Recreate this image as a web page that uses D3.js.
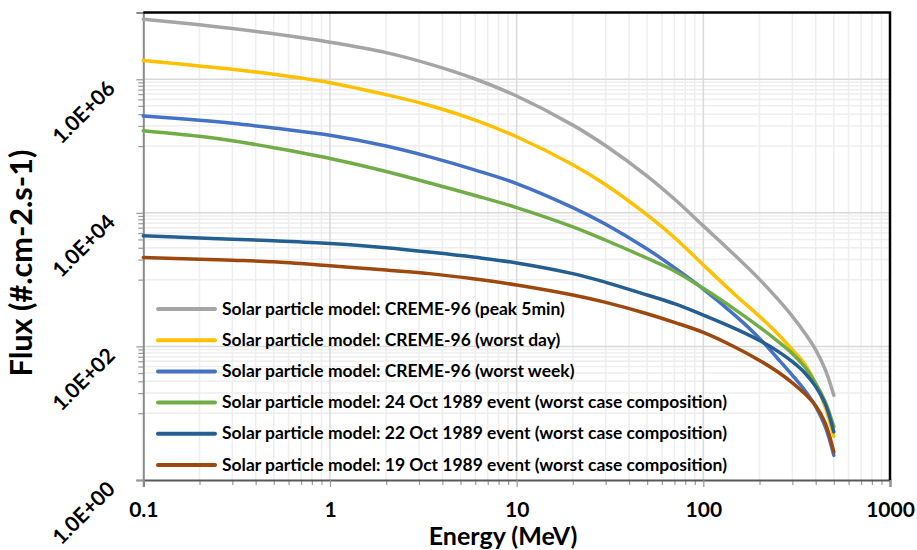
<!DOCTYPE html>
<html>
<head>
<meta charset="utf-8">
<script src="https://cdn.jsdelivr.net/npm/d3@7"></script>
<style>
html,body{margin:0;padding:0;background:#fff;}
svg{display:block;font-family:Lato,"Open Sans",sans-serif;font-weight:bold;}
</style>
</head>
<body>
<svg id="chart" width="917" height="550"></svg>
<script>
// ---- data ----
const energy = [0.1,0.2,0.3,0.5,1,2,3.5,6,10,20,30,50,70,100,150,200,250,300,350,400,450,500];
const peak5min = [7.94e6,6.53e6,5.75e6,4.79e6,3.59e6,2.51e6,1.66e6,1.01e6,5.62e5,2.06e5,1.01e5,3.56e4,1.61e4,6.38e3,2.22e3,1.01e3,515,282,158,89,45,18.6];
const worstDay = [1.91e6,1.58e6,1.41e6,1.19e6,8.9e5,5.89e5,3.98e5,2.45e5,1.38e5,5.25e4,2.63e4,9.3e3,4.27e3,1.66e3,575,282,155,89,54,27.5,12.3,4.5];
const worstWeek = [2.82e5,2.43e5,2.19e5,1.86e5,1.45e5,1.0e5,6.76e4,4.37e4,2.75e4,1.2e4,6.76e3,2.88e3,1.51e3,724,282,132,66,37,21.9,12.6,6.3,2.34];
const oct24 = [1.70e5,1.40e5,1.20e5,9.44e4,6.53e4,4.17e4,2.75e4,1.82e4,1.2e4,6.17e3,3.89e3,2.09e3,1.35e3,741,347,195,120,78,49,28,14.8,6.3];
const oct22 = [4.54e3,4.22e3,4.03e3,3.82e3,3.49e3,3.01e3,2.57e3,2.16e3,1.78e3,1.23e3,912,589,437,295,182,123,85,59,40,25,13.8,5.25];
const oct19 = [2.15e3,2.02e3,1.95e3,1.85e3,1.61e3,1.39e3,1.22e3,1.02e3,832,589,457,309,229,162,95.5,61.7,41.7,28.5,19.5,12.9,7.1,2.63];

const seriesNames = [
  "Solar particle model: CREME-96 (peak 5min)",
  "Solar particle model: CREME-96 (worst day)",
  "Solar particle model: CREME-96 (worst week)",
  "Solar particle model: 24 Oct 1989 event (worst case composition)",
  "Solar particle model: 22 Oct 1989 event (worst case composition)",
  "Solar particle model: 19 Oct 1989 event (worst case composition)"
];
const seriesValues = [peak5min, worstDay, worstWeek, oct24, oct22, oct19];
const seriesColors = ["#A5A5A5","#FFC000","#4472C4","#70AD47","#255E91","#9E480E"];

const xMajorTicks = [0.1,1,10,100,1000];
const xTickLabels = ["0.1","1","10","100","1000"];
const yMajorTicks = [1,1e2,1e4,1e6];
const yTickLabels = ["1.0E+00","1.0E+02","1.0E+04","1.0E+06"];
const xTitle = "Energy (MeV)";
const yTitle = "Flux (#.cm-2.s-1)";

// ---- layout ----
const L = 143.3, R = 890, T = 12.5, B = 480;
const svg = d3.select("#chart");
const x = d3.scaleLog().domain([0.1,1000]).range([L,R]);
const y = d3.scaleLog().domain([1,1e7]).range([B,T]);

// minor tick values
const xMinor = [];
for (let e=-1; e<=2; e++) for (let k=2;k<=9;k++) xMinor.push(k*Math.pow(10,e));
const yMinor = [];
for (let n=1;n<=3;n++) for (let k=1;k<=9;k++) yMinor.push(k*Math.pow(10,2*n-1));

// gridlines
const g = svg.append("g");
g.selectAll(".vmin").data(xMinor).join("line")
  .attr("x1",d=>x(d)).attr("x2",d=>x(d)).attr("y1",T).attr("y2",B)
  .attr("stroke","#eeeeee").attr("stroke-width",1.5);
g.selectAll(".hmin").data(yMinor).join("line")
  .attr("x1",L).attr("x2",R).attr("y1",d=>y(d)).attr("y2",d=>y(d))
  .attr("stroke","#eeeeee").attr("stroke-width",1.5);
g.selectAll(".vmaj").data([1,10,100]).join("line")
  .attr("x1",d=>x(d)).attr("x2",d=>x(d)).attr("y1",T).attr("y2",B)
  .attr("stroke","#d9d9d9").attr("stroke-width",1.5);
g.selectAll(".hmaj").data([1e2,1e4,1e6]).join("line")
  .attr("x1",L).attr("x2",R).attr("y1",d=>y(d)).attr("y2",d=>y(d))
  .attr("stroke","#d9d9d9").attr("stroke-width",1.5);

// axes: minor ticks
const axMinX = svg.append("g").attr("transform",`translate(0,${B})`)
  .call(d3.axisBottom(x).tickValues(xMinor).tickSize(5).tickFormat(""));
const axMinY = svg.append("g").attr("transform",`translate(${L},0)`)
  .call(d3.axisLeft(y).tickValues(yMinor.concat([1e7])).tickSize(5).tickFormat(""));
[axMinX,axMinY].forEach(a=>{a.select(".domain").remove(); a.selectAll("line").attr("stroke","#999").attr("stroke-width",1.2);});

// major axes
const axX = svg.append("g").attr("transform",`translate(0,${B})`)
  .call(d3.axisBottom(x).tickValues(xMajorTicks).tickSize(7).tickFormat((d,i)=>xTickLabels[i]));
axX.select(".domain").attr("stroke","#595959").attr("stroke-width",2);
axX.selectAll("line").attr("stroke","#999").attr("stroke-width",1.2);
axX.selectAll("text").attr("y",37).attr("dy",0)
  .attr("font-size",21).attr("font-family","Lato").attr("font-weight","bold").attr("fill","#000");

const axY = svg.append("g").attr("transform",`translate(${L},0)`)
  .call(d3.axisLeft(y).tickValues(yMajorTicks).tickSize(7).tickFormat((d,i)=>yTickLabels[i]));
axY.select(".domain").attr("stroke","#8a8a8a").attr("stroke-width",2);
axY.selectAll("line").attr("stroke","#999").attr("stroke-width",1.2);
axY.selectAll("text").attr("x",0).attr("dy",0).attr("text-anchor","end")
  .attr("transform","translate(-27,10) rotate(-45)")
  .attr("font-size",21).attr("font-family","Lato").attr("font-weight","bold").attr("fill","#000");

// top/right border
svg.append("path").attr("d",`M${L},${T}H${R}V${B}`).attr("fill","none")
  .attr("stroke","#000").attr("stroke-width",2.5);

// series lines
const line = d3.line().x(d=>x(d[0])).y(d=>y(d[1])).curve(d3.curveCatmullRom.alpha(0.5));
seriesValues.forEach((vals,i)=>{
  svg.append("path").datum(energy.map((e,j)=>[e,vals[j]]))
    .attr("d",line).attr("fill","none").attr("stroke",seriesColors[i])
    .attr("stroke-width",3.5).attr("stroke-linejoin","round").attr("stroke-linecap","round");
});

// legend
function fit(sel, target){
  const n = sel.node(); const fs = parseFloat(sel.attr("font-size"));
  const w = n.getComputedTextLength(); sel.attr("font-size", fs*target/w);
}
const leg = svg.append("g");
const rowY0 = 309, rowDy = 31.2;
seriesNames.forEach((name,i)=>{
  const yy = rowY0 + i*rowDy;
  leg.append("line").attr("x1",158).attr("x2",215).attr("y1",yy).attr("y2",yy)
    .attr("stroke",seriesColors[i]).attr("stroke-width",4).attr("stroke-linecap","round");
  leg.append("text").attr("class","lt").attr("x",222).attr("y",yy+5.5)
    .attr("font-size",15).attr("fill","#000").text(name);
});
const longest = leg.selectAll(".lt").filter((d,i)=>i===4);
fit(longest, 505);
const fsL = longest.attr("font-size");
leg.selectAll(".lt").attr("font-size",fsL);

// axis titles
svg.append("text").attr("x",503).attr("y",545).attr("text-anchor","middle")
  .attr("font-size",25).attr("fill","#000").text(xTitle);
const yt = svg.append("text").attr("transform","translate(32,263) rotate(-90)").attr("text-anchor","middle")
  .attr("font-size",20).attr("fill","#000").text(yTitle);
fit(yt,227);
</script>
</body>
</html>
